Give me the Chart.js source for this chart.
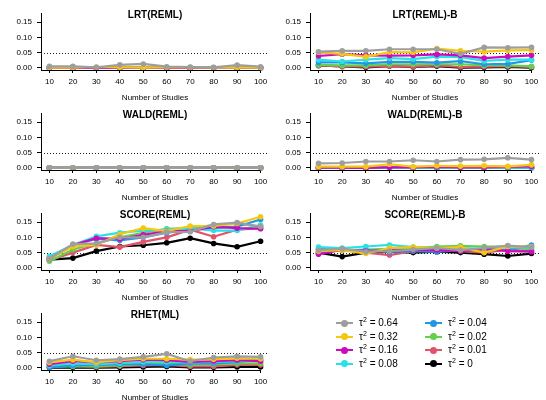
<!DOCTYPE html>
<html>
<head>
<meta charset="utf-8">
<script src="https://cdn.jsdelivr.net/npm/chart.js@4"></script>
<style>
body { margin: 0; width: 546px; height: 400px; overflow: hidden; background: #fff; position: relative; font-family: "Liberation Sans", Arial, sans-serif; }
canvas { position: absolute; }
.leg { position: absolute; font-size: 10px; color: #000; height: 12px; line-height: 12px; white-space: nowrap; }
.leg .sym { position: absolute; left: 0; top: 5px; width: 17px; height: 2px; }
.leg .dot { position: absolute; left: 5px; top: -2.5px; width: 7px; height: 7px; border-radius: 50%; }
.leg .t { position: absolute; left: 23px; top: 0; }
.leg sup { font-size: 7px; vertical-align: 4px; line-height: 0; }
</style>
</head>
<body>
<script>
// number of studies (x) and y tick labels
const studies = [10, 20, 30, 40, 50, 60, 70, 80, 90, 100];
const yTicks = [0, 0.05, 0.10, 0.15];
const tauLabels = ["0.64", "0.32", "0.16", "0.08", "0.04", "0.02", "0.01", "0"];
const colors = ["#9E9E9E", "#F5C710", "#CD0BBC", "#28E2E5", "#2297E6", "#61D04F", "#DF536B", "#000000"];

// rejection rates, one row per tau^2 (same order as tauLabels)
const lrtReml = [
    [0.005, 0.005, 0.002, 0.010, 0.013, 0.004, 0.003, 0.002, 0.009, 0.004],
    [0.001, 0.001, 0.003, 0.002, 0.001, 0.002, 0.002, 0.001, 0.002, 0.001],
    [0, 0, 0.001, 0, 0, 0, 0, 0, 0, 0],
    [0, 0, 0, 0, 0, 0, 0, 0, 0, 0],
    [0, 0, 0, 0, 0, 0, 0, 0, 0, 0],
    [0, 0, 0, 0, 0, 0, 0, 0, 0, 0],
    [0, 0, 0, 0, 0, 0, 0, 0, 0, 0],
    [0, 0, 0, 0, 0, 0, 0, 0, 0, 0]
];
const lrtRemlB = [
    [0.053, 0.056, 0.056, 0.061, 0.061, 0.061, 0.046, 0.067, 0.066, 0.067],
    [0.051, 0.046, 0.036, 0.052, 0.051, 0.063, 0.056, 0.053, 0.057, 0.058],
    [0.039, 0.045, 0.041, 0.040, 0.041, 0.044, 0.041, 0.032, 0.037, 0.041],
    [0.027, 0.021, 0.027, 0.032, 0.029, 0.037, 0.035, 0.023, 0.027, 0.027],
    [0.018, 0.018, 0.015, 0.020, 0.020, 0.017, 0.022, 0.012, 0.013, 0.025],
    [0.010, 0.008, 0.008, 0.012, 0.012, 0.012, 0.012, 0.008, 0.008, 0.005],
    [0.008, 0.005, 0.004, 0.006, 0.004, 0.008, 0.003, 0.004, 0.006, 0.003],
    [0.008, 0.005, 0.002, 0.006, 0.003, 0.006, 0.001, 0.002, 0.003, 0.001]
];
const waldReml = [
    [0, 0, 0, 0, 0, 0, 0, 0, 0, 0],
    [0, 0, 0, 0, 0, 0, 0, 0, 0, 0],
    [0, 0, 0, 0, 0, 0, 0, 0, 0, 0],
    [0, 0, 0, 0, 0, 0, 0, 0, 0, 0],
    [0, 0, 0, 0, 0, 0, 0, 0, 0, 0],
    [0, 0, 0, 0, 0, 0, 0, 0, 0, 0],
    [0, 0, 0, 0, 0, 0, 0, 0, 0, 0],
    [0, 0, 0, 0, 0, 0, 0, 0, 0, 0]
];
const waldRemlB = [
    [0.015, 0.016, 0.021, 0.021, 0.025, 0.021, 0.027, 0.028, 0.033, 0.027],
    [0.004, 0.004, 0.004, 0.012, 0.004, 0.007, 0.006, 0.007, 0.005, 0.010],
    [0.001, 0.001, 0, 0.002, 0.002, 0.003, 0.002, 0.002, 0.003, 0.005],
    [0, 0, 0, 0, 0, 0.001, 0, 0, 0.001, 0.001],
    [0, 0, 0, 0, 0, 0, 0, 0, 0, 0],
    [0, 0, 0, 0, 0, 0, 0, 0, 0, 0],
    [0, 0, 0, 0, 0, 0, 0, 0, 0, 0],
    [0, 0, 0, 0, 0, 0, 0, 0, 0, 0]
];
const scoreReml = [
    [0.030, 0.078, 0.080, 0.100, 0.100, 0.117, 0.118, 0.142, 0.148, 0.135],
    [0.030, 0.070, 0.075, 0.110, 0.130, 0.120, 0.137, 0.137, 0.145, 0.167],
    [0.030, 0.075, 0.097, 0.095, 0.108, 0.120, 0.120, 0.135, 0.130, 0.128],
    [0.038, 0.075, 0.103, 0.115, 0.122, 0.125, 0.130, 0.122, 0.122, 0.140],
    [0.033, 0.075, 0.095, 0.090, 0.100, 0.115, 0.125, 0.130, 0.135, 0.158],
    [0.022, 0.060, 0.080, 0.100, 0.115, 0.128, 0.130, 0.140, 0.145, 0.135],
    [0.025, 0.050, 0.075, 0.068, 0.085, 0.100, 0.125, 0.102, 0.125, 0.130],
    [0.027, 0.032, 0.055, 0.070, 0.074, 0.082, 0.097, 0.080, 0.069, 0.087]
];
const scoreRemlB = [
    [0.058, 0.063, 0.053, 0.055, 0.060, 0.065, 0.058, 0.065, 0.073, 0.068],
    [0.055, 0.058, 0.047, 0.065, 0.068, 0.065, 0.068, 0.050, 0.070, 0.070],
    [0.045, 0.060, 0.055, 0.058, 0.058, 0.058, 0.055, 0.062, 0.055, 0.053],
    [0.068, 0.065, 0.070, 0.075, 0.068, 0.065, 0.065, 0.062, 0.068, 0.065],
    [0.062, 0.058, 0.058, 0.052, 0.055, 0.052, 0.058, 0.058, 0.060, 0.075],
    [0.060, 0.058, 0.060, 0.062, 0.065, 0.070, 0.072, 0.070, 0.070, 0.060],
    [0.048, 0.058, 0.050, 0.042, 0.055, 0.060, 0.055, 0.050, 0.060, 0.055],
    [0.050, 0.037, 0.050, 0.053, 0.050, 0.053, 0.050, 0.045, 0.039, 0.047]
];
const rhetMl = [
    [0.022, 0.038, 0.025, 0.029, 0.036, 0.046, 0.022, 0.034, 0.038, 0.036],
    [0.018, 0.027, 0.018, 0.025, 0.030, 0.030, 0.027, 0.028, 0.032, 0.030],
    [0.012, 0.022, 0.018, 0.022, 0.027, 0.025, 0.020, 0.022, 0.025, 0.022],
    [0.008, 0.015, 0.012, 0.016, 0.020, 0.020, 0.018, 0.020, 0.022, 0.025],
    [0.002, 0.008, 0.010, 0.012, 0.012, 0.008, 0.015, 0.015, 0.020, 0.028],
    [0.003, 0.005, 0.006, 0.008, 0.012, 0.015, 0.010, 0.012, 0.015, 0.015],
    [0.012, 0.006, 0.003, 0.006, 0.008, 0.010, 0.005, 0.005, 0.010, 0.010],
    [0.001, 0.002, 0.001, 0.002, 0.003, 0.005, 0.002, 0.002, 0.003, 0.003]
];

const panels = [
    { title: "LRT(REML)", data: lrtReml, col: 0, row: 0 },
    { title: "LRT(REML)-B", data: lrtRemlB, col: 1, row: 0 },
    { title: "WALD(REML)", data: waldReml, col: 0, row: 1 },
    { title: "WALD(REML)-B", data: waldRemlB, col: 1, row: 1 },
    { title: "SCORE(REML)", data: scoreReml, col: 0, row: 2 },
    { title: "SCORE(REML)-B", data: scoreRemlB, col: 1, row: 2 },
    { title: "RHET(ML)", data: rhetMl, col: 0, row: 3 }
];

const FONT = "'Liberation Sans', Arial, sans-serif";

// title, dotted 0.05 line and x axis line
const panelDecor = {
    id: "panelDecor",
    beforeDatasetsDraw(chart) {
        const { ctx, chartArea: a, scales: { y } } = chart;
        const yy = Math.round(y.getPixelForValue(0.05)) + 0.5;
        ctx.save();
        ctx.strokeStyle = "#222";
        ctx.lineWidth = 1;
        ctx.setLineDash([1, 2]);
        ctx.beginPath();
        ctx.moveTo(a.left, yy);
        ctx.lineTo(a.right, yy);
        ctx.stroke();
        ctx.restore();
    },
    afterDraw(chart, args, opts) {
        const { ctx, chartArea: a, scales: { x } } = chart;
        const by = Math.round(a.bottom) + 0.5;
        ctx.save();
        ctx.strokeStyle = "#000";
        ctx.lineWidth = 1;
        ctx.beginPath();
        ctx.moveTo(a.left, by);
        ctx.lineTo(x.getPixelForValue(studies[studies.length - 1]), by);
        ctx.stroke();
        ctx.fillStyle = "#000";
        ctx.font = "bold 10px " + FONT;
        ctx.textAlign = "center";
        ctx.textBaseline = "middle";
        ctx.fillText(opts.title, (a.left + a.right) / 2, 15);
        ctx.restore();
    }
};

function makePanel(p) {
    const cv = document.createElement("canvas");
    cv.width = 273;
    cv.height = 104;
    cv.style.left = (p.col ? 271 : 0) + "px";
    cv.style.top = (p.row * 100) + "px";
    document.body.appendChild(cv);
    const yWidth = p.col ? 39 : 41;

    new Chart(cv, {
        type: "line",
        data: {
            datasets: p.data.map((vals, i) => ({
                label: tauLabels[i],
                data: vals.map((v, j) => ({ x: studies[j], y: v })),
                borderColor: colors[i],
                backgroundColor: colors[i],
                borderWidth: 2.2,
                pointRadius: 2.8,
                pointBorderWidth: 0,
                tension: 0,
                clip: 6
            }))
        },
        options: {
            responsive: false,
            animation: false,
            events: [],
            layout: { padding: { top: 13.8, left: 0, right: 1.4, bottom: 0 } },
            plugins: {
                legend: { display: false },
                tooltip: { enabled: false },
                panelDecor: { title: p.title }
            },
            scales: {
                x: {
                    type: "linear",
                    min: 6.4,
                    max: 103.6,
                    afterBuildTicks: s => { s.ticks = studies.map(v => ({ value: v })); },
                    afterFit: s => { s.height = 34; },
                    border: { display: false },
                    grid: { drawOnChartArea: false, tickLength: 3, color: "#000" },
                    ticks: { font: { size: 8, family: FONT }, color: "#000", padding: 4, maxRotation: 0, autoSkip: false },
                    title: { display: true, text: "Number of Studies", font: { size: 8, family: FONT }, color: "#000", padding: { top: 0, bottom: 1.5 } }
                },
                y: {
                    min: -0.0068,
                    max: 0.1768,
                    afterBuildTicks: s => { s.ticks = yTicks.map(v => ({ value: v })); },
                    afterFit: s => { s.width = yWidth; },
                    border: { display: true, color: "#000", width: 1 },
                    grid: { drawOnChartArea: false, tickLength: 4, color: "#000" },
                    ticks: { font: { size: 8, family: FONT }, color: "#000", padding: 5, callback: v => v.toFixed(2) }
                }
            }
        },
        plugins: [panelDecor]
    });
}

panels.forEach(makePanel);

// legend, two columns of four
tauLabels.forEach((lab, i) => {
    const col = Math.floor(i / 4), row = i % 4;
    const d = document.createElement("div");
    d.className = "leg";
    d.style.left = (col ? 425 : 336) + "px";
    d.style.top = (317 + row * 13.6) + "px";
    d.innerHTML = '<div class="sym" style="background:' + colors[i] + '"><div class="dot" style="background:' + colors[i] + '"></div></div>' +
        '<span class="t">\u03C4<sup>2</sup> = ' + lab + '</span>';
    document.body.appendChild(d);
});
</script>
</body>
</html>
